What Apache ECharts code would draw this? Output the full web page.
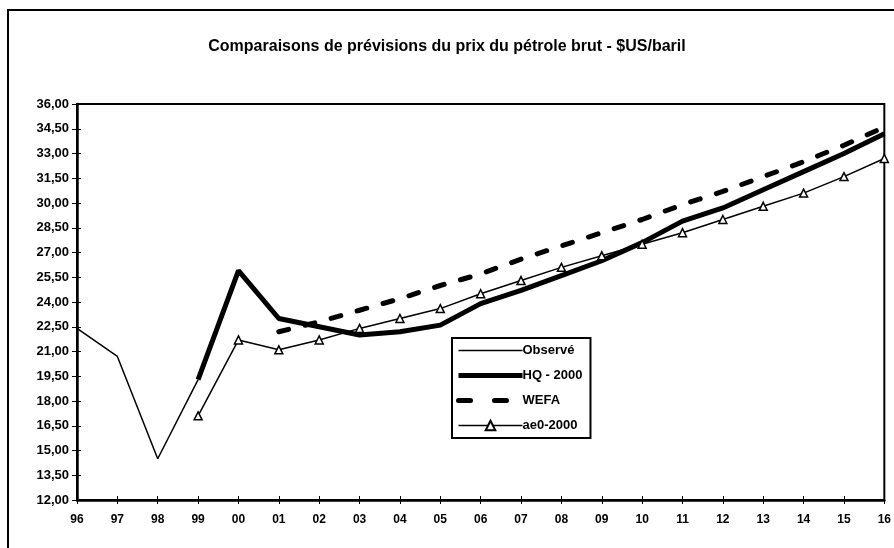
<!DOCTYPE html>
<html>
<head>
<meta charset="utf-8">
<script src="https://cdn.jsdelivr.net/npm/echarts@6/dist/echarts.min.js"></script>
<style>
  html, body { margin: 0; padding: 0; background: #fff; }
  #chart { width: 894px; height: 548px; }
</style>
</head>
<body>
<div id="chart"></div>
<script>
// Années (axe des x)
const years = ['96', '97', '98', '99', '00', '01', '02', '03', '04', '05', '06',
  '07', '08', '09', '10', '11', '12', '13', '14', '15', '16'];

// Séries ($US/baril)
const observe = [22.4, 20.7, 14.5, 19.3, null, null, null, null, null, null, null,
  null, null, null, null, null, null, null, null, null, null];
const hq2000 = [null, null, null, 19.3, 25.9, 23.0, 22.5, 22.0, 22.2, 22.6, 23.9,
  24.7, 25.6, 26.5, 27.6, 28.9, 29.7, 30.8, 31.9, 33.0, 34.2];
const wefa = [null, null, null, null, null, 22.2, 22.8, 23.5, 24.2, 25.0, 25.7,
  26.6, 27.4, 28.2, 29.0, 29.9, 30.7, 31.6, 32.5, 33.5, 34.6];
const ae02000 = [null, null, null, 17.1, 21.7, 21.1, 21.7, 22.4, 23.0, 23.6, 24.5,
  25.3, 26.1, 26.8, 27.5, 28.2, 29.0, 29.8, 30.6, 31.6, 32.7];

const seriesNames = ['Observé', 'HQ - 2000', 'WEFA', 'ae0-2000'];

const chart = echarts.init(document.getElementById('chart'));
const font = '"Liberation Sans", Arial, sans-serif';
const fmt = v => v.toFixed(2).replace('.', ',');

// pas de marqueur dans la légende pour les séries sans symbole
const noMarker = { opacity: 0 };

chart.setOption({
  backgroundColor: '#ffffff',
  animation: false,
  title: {
    text: 'Comparaisons de prévisions du prix du pétrole brut - $US/baril',
    left: 'center',
    top: 34,
    textStyle: { fontFamily: font, fontSize: 16, fontWeight: 'bold', color: '#000' }
  },
  // cadre extérieur
  graphic: [{
    type: 'rect',
    shape: { x: 8, y: 10, width: 900, height: 560 },
    style: { fill: 'none', stroke: '#000', lineWidth: 2 }
  }],
  legend: {
    data: [
      { name: seriesNames[0], itemStyle: noMarker, lineStyle: { width: 1.5 } },
      { name: seriesNames[1], itemStyle: noMarker, lineStyle: { width: 5 } },
      { name: seriesNames[2], itemStyle: noMarker, lineStyle: { width: 5, type: [12, 24] } },
      { name: seriesNames[3], lineStyle: { width: 1.5 } }
    ],
    orient: 'vertical',
    left: 452,
    top: 338,
    backgroundColor: '#fff',
    borderColor: '#000',
    borderWidth: 2,
    borderRadius: 0,
    padding: [6, 8, 6, 4],
    itemWidth: 64,
    itemHeight: 12,
    itemGap: 12,
    textStyle: { fontFamily: font, fontSize: 13, fontWeight: 'bold', color: '#000', padding: [0, 0, 0, -5] }
  },
  grid: {
    left: 77, right: 8, top: 104, bottom: 48,
    show: true, borderColor: '#000', borderWidth: 2, backgroundColor: '#fff'
  },
  xAxis: [{
    type: 'category',
    data: years,
    boundaryGap: false,
    axisLine: { lineStyle: { color: '#000', width: 2.5 } },
    axisTick: { show: true, length: 4, lineStyle: { color: '#000' } },
    axisLabel: { fontFamily: font, fontSize: 12, fontWeight: 'bold', color: '#000', margin: 14 },
    splitLine: { show: false }
  }, {
    type: 'category',
    data: years,
    boundaryGap: false,
    position: 'bottom',
    axisLine: { show: false },
    axisTick: { show: true, inside: true, length: 4, lineStyle: { color: '#000' } },
    axisLabel: { show: false }
  }],
  yAxis: [{
    type: 'value',
    min: 12,
    max: 36,
    interval: 1.5,
    axisLine: { show: true, lineStyle: { color: '#000', width: 2.5 } },
    axisTick: { show: true, length: 5, lineStyle: { color: '#000' } },
    axisLabel: { fontFamily: font, fontSize: 13, fontWeight: 'bold', color: '#000', margin: 8, formatter: fmt },
    splitLine: { show: false }
  }, {
    type: 'value',
    min: 12,
    max: 36,
    interval: 1.5,
    position: 'left',
    axisLine: { show: false },
    axisTick: { show: true, inside: true, length: 4, lineStyle: { color: '#000' } },
    axisLabel: { show: false },
    splitLine: { show: false }
  }],
  series: [
    {
      name: seriesNames[0], type: 'line', data: observe,
      symbol: 'none', lineStyle: { color: '#000', width: 1.5 }, itemStyle: { color: '#000' }
    },
    {
      name: seriesNames[1], type: 'line', data: hq2000,
      symbol: 'none', lineStyle: { color: '#000', width: 5 }, itemStyle: { color: '#000' }
    },
    {
      name: seriesNames[2], type: 'line', data: wefa,
      symbol: 'none', lineStyle: { color: '#000', width: 5, type: [10, 17], cap: 'round' }, itemStyle: { color: '#000' }
    },
    {
      name: seriesNames[3], type: 'line', data: ae02000,
      symbol: 'triangle', symbolSize: 8, showSymbol: true,
      lineStyle: { color: '#000', width: 1.5 },
      itemStyle: { color: '#fff', borderColor: '#000', borderWidth: 1.5 }
    }
  ]
});
</script>
</body>
</html>
